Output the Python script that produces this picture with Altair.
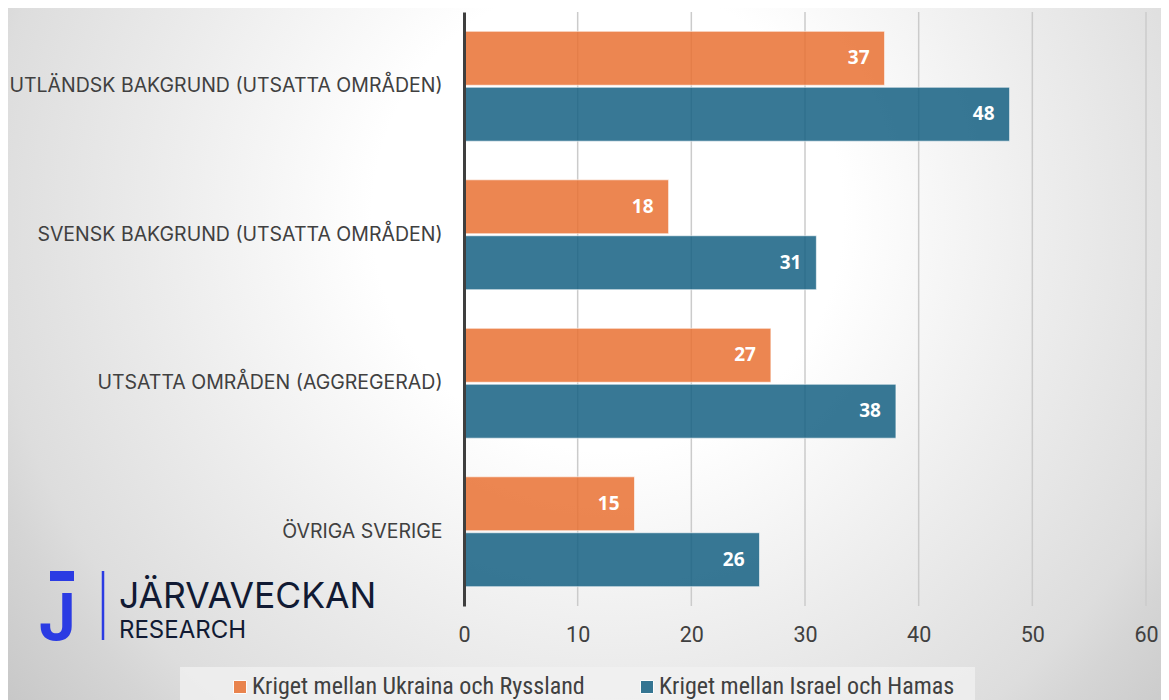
import altair as alt
import pandas as pd

categories = [
    "UTLÄNDSK BAKGRUND (UTSATTA OMRÅDEN)",
    "SVENSK BAKGRUND (UTSATTA OMRÅDEN)",
    "UTSATTA OMRÅDEN (AGGREGERAD)",
    "ÖVRIGA SVERIGE",
]
series = ["Kriget mellan Ukraina och Ryssland", "Kriget mellan Israel och Hamas"]
ukraina_ryssland = [37, 18, 27, 15]
israel_hamas = [48, 31, 38, 26]
colors = ["#E97132", "#156082"]
x_ticks = [0, 10, 20, 30, 40, 50, 60]
grid_values = [10, 20, 30, 40, 50, 60]

rows = []
for i, c in enumerate(categories):
    rows.append({"kategori": c, "serie": series[0], "varde": ukraina_ryssland[i]})
    rows.append({"kategori": c, "serie": series[1], "varde": israel_hamas[i]})
df = pd.DataFrame(rows)
grid_df = pd.DataFrame({"varde": grid_values})

W, H = 682, 594
PAD = {"left": 456, "top": 4, "right": 15, "bottom": 94}
one = pd.DataFrame({"a": [0]})

COND = "Liberation Sans Narrow, Roboto Condensed, Arial Narrow, sans-serif"

xscale = alt.Scale(domain=[0, 60], nice=False)
xaxis = alt.Axis(
    title=None, values=x_ticks, grid=False, labelFlush=False,
    domain=False, ticks=False, labelPadding=18, labelFontSize=21.5,
    labelColor="#404040", labelFont="Roboto", zindex=2,
)

bg = alt.Chart(one).mark_rect(
    color=alt.Gradient(
        gradient="radial",
        x1=0.52, y1=0.38, r1=0.0,
        x2=0.52, y2=0.38, r2=0.68,
        stops=[
            alt.GradientStop(offset=0.0, color="#ffffff"),
            alt.GradientStop(offset=0.30, color="#ffffff"),
            alt.GradientStop(offset=0.57, color="#ececec"),
            alt.GradientStop(offset=0.79, color="#dddddd"),
            alt.GradientStop(offset=0.85, color="#d5d5d5"),
            alt.GradientStop(offset=1.0, color="#c6c6c6"),
        ],
    )
).encode(
    x=alt.value(-PAD["left"]), x2=alt.value(W + PAD["right"]),
    y=alt.value(-PAD["top"]), y2=alt.value(H + PAD["bottom"]),
)

legend_box = alt.Chart(one).mark_rect(color="#f2f2f2", opacity=0.75).encode(
    x=alt.value(-284), x2=alt.value(511), y=alt.value(655), y2=alt.value(700)
)

grid = alt.Chart(grid_df).mark_rule(color="#cbcbcb", strokeWidth=1.5).encode(
    x=alt.X("varde:Q", scale=xscale, axis=xaxis),
    y=alt.value(0), y2=alt.value(H),
)

yenc = alt.Y(
    "kategori:N", sort=categories,
    scale=alt.Scale(paddingInner=0.26, paddingOuter=0.13),
    axis=alt.Axis(
        title=None, domain=True, domainColor="#3f3f3f", domainWidth=3,
        ticks=False, labelPadding=22, labelFontSize=19.5, labelColor="#404040",
        labelFont="Inter", labelLimit=0, grid=False, zindex=2,
    ),
)
yoff = alt.YOffset("serie:N", sort=series, scale=alt.Scale(paddingInner=0.036, paddingOuter=0))
xenc = alt.X("varde:Q", scale=xscale, axis=xaxis)

bars = alt.Chart(df).mark_bar(
    fillOpacity=0.85, stroke="#ffffff", strokeOpacity=0.6, strokeWidth=1
).encode(
    y=yenc, yOffset=yoff, x=xenc,
    color=alt.Color(
        "serie:N", sort=series,
        scale=alt.Scale(domain=series, range=colors),
        legend=alt.Legend(
            title=None, orient="none", direction="horizontal",
            legendX=-236, legendY=663,
            symbolType="square", symbolSize=169, symbolOpacity=0.85,
            symbolStrokeColor="#ffffff", symbolStrokeWidth=1,
            labelFont=COND, labelFontSize=24, labelColor="#404040",
            labelOffset=0, columnPadding=50, labelLimit=0, zindex=2,
        ),
    ),
)

labels = alt.Chart(df).mark_text(
    align="right", baseline="middle", dx=-15, color="white",
    fontWeight="bold", fontSize=19, font="Open Sans",
).encode(y=alt.Y("kategori:N", sort=categories), yOffset=yoff, x="varde:Q", text="varde:Q")

logo_block = alt.Chart(one).mark_rect(color="#2B3BE3").encode(
    x=alt.value(-414), x2=alt.value(-390), y=alt.value(559), y2=alt.value(569)
)
logo_j = alt.Chart(one).mark_text(
    text="J", align="right", baseline="alphabetic", fontSize=64,
    font="Inter", fontWeight="bold", color="#2B3BE3",
).encode(x=alt.value(-388), y=alt.value(628))
logo_line = alt.Chart(one).mark_rule(color="#2B3BE3", strokeWidth=2.5).encode(
    x=alt.value(-361), y=alt.value(559), y2=alt.value(628)
)
logo_t1 = alt.Chart(one).mark_text(
    text="JÄRVAVECKAN", align="left", baseline="alphabetic", fontSize=35.5,
    font="Inter", color="#111a33",
).encode(x=alt.value(-345), y=alt.value(596))
logo_t2 = alt.Chart(one).mark_text(
    text="RESEARCH", align="left", baseline="alphabetic", fontSize=24,
    font="Inter", color="#111a33",
).encode(x=alt.value(-345), y=alt.value(626))

chart = alt.layer(
    bg, legend_box, grid, bars, labels, logo_block, logo_j, logo_line, logo_t1, logo_t2
).resolve_scale(x="shared").properties(
    width=W, height=H,
    autosize=alt.AutoSizeParams(type="none"),
    padding=PAD,
).configure_view(stroke=None).configure(background="#e6e6e6")

chart.save("out.html", embed_options={"renderer": "svg", "actions": False})
